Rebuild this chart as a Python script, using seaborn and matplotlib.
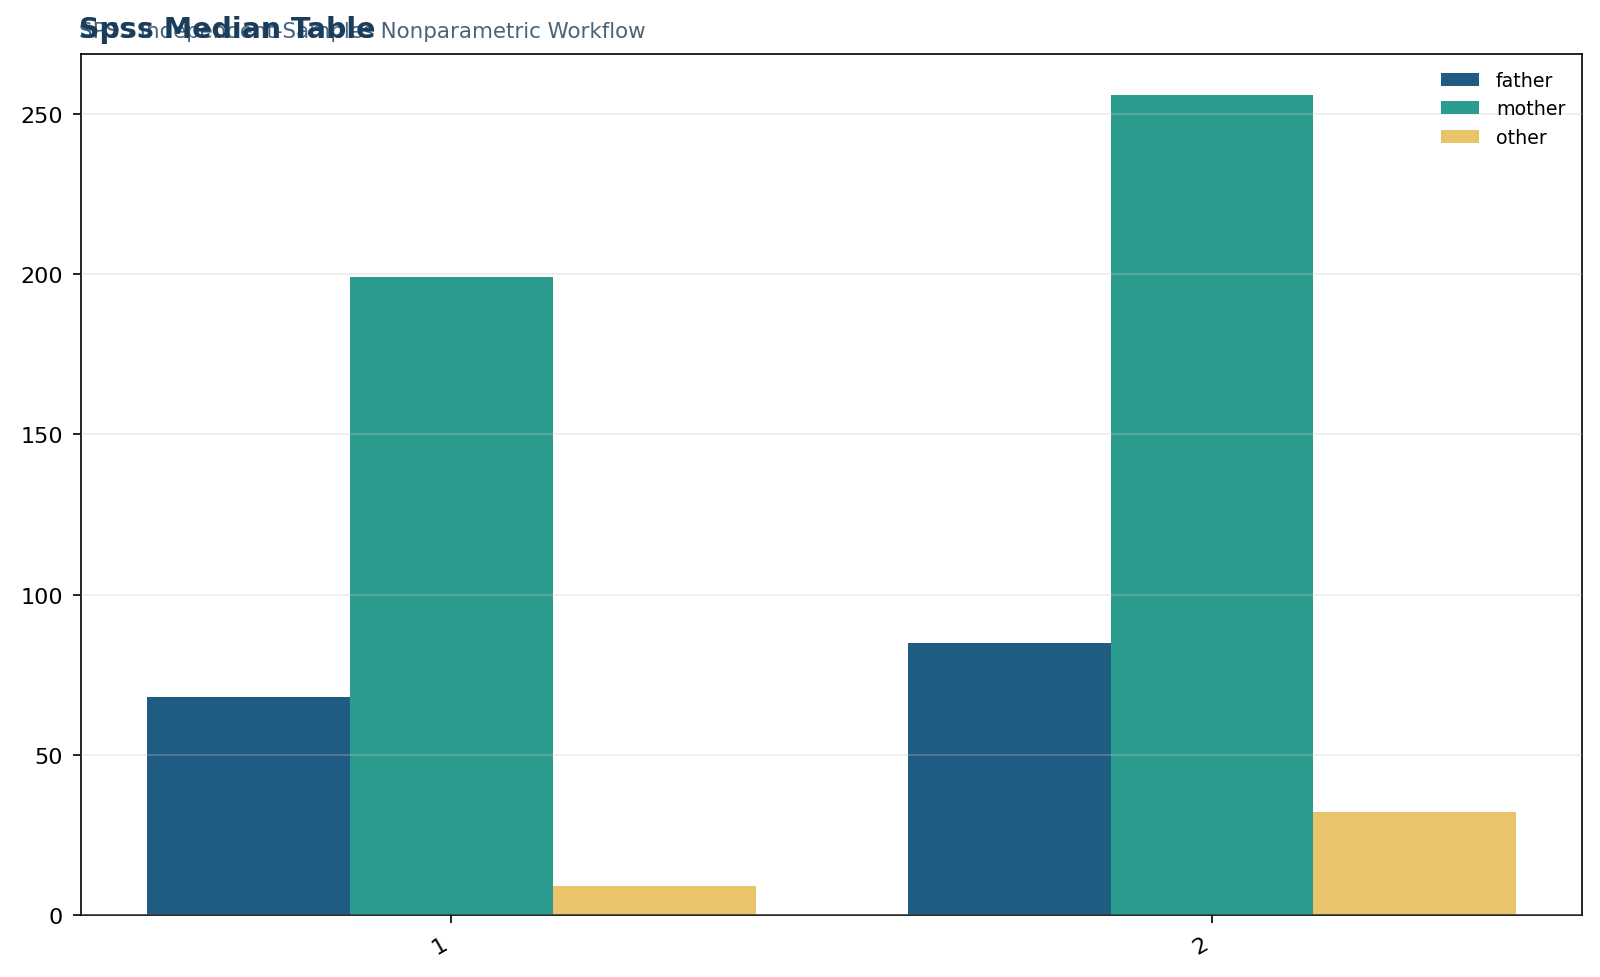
import pandas as pd
import matplotlib
matplotlib.use('Agg')
import matplotlib.pyplot as plt
import seaborn as sns

# Values
groups = ['1', '2']
relations = ['father', 'mother', 'other']
father = [68, 85]
mother = [199, 256]
other = [9, 32]

palette = {'father': '#1f5b82', 'mother': '#2a9d8f', 'other': '#e9c46a'}

df = pd.DataFrame({
    'group': groups * 3,
    'relation': ['father'] * 2 + ['mother'] * 2 + ['other'] * 2,
    'count': father + mother + other,
})

sns.set_style('white')
plt.rcParams['font.family'] = ['DejaVu Sans']

fig, ax = plt.subplots(figsize=(16, 9.78), dpi=100)
fig.subplots_adjust(left=0.0505, right=0.989, top=0.944, bottom=0.0635)

sns.barplot(data=df, x='group', y='count', hue='relation', order=groups,
            hue_order=relations, palette=palette, saturation=1,
            linewidth=0, ax=ax)
ax.set_xlim(-0.487, 1.487)

# grid sits on top of the bars, faintly
ax.set_axisbelow(False)
ax.grid(axis='y', color='#c8c8c8', alpha=0.35, linewidth=1.2)
ax.set_xlabel('')
ax.set_ylabel('')
for s in ax.spines.values():
    s.set_visible(True)
    s.set_color('black')
    s.set_linewidth(1.2)
ax.tick_params(axis='both', labelsize=16, length=6, width=1.2, color='black',
               labelcolor='black', bottom=True, left=True, pad=7)
plt.setp(ax.get_xticklabels(), rotation=30, ha='right')

leg = ax.legend(loc='upper right', frameon=False, fontsize=13.7,
                handlelength=2.0, handletextpad=0.9)
for t in leg.get_texts():
    t.set_color('black')

fig.text(0.0495, 0.961, 'SPSS Independent-Samples Nonparametric Workflow',
         fontsize=15.4, color='#4a6378', ha='left', va='baseline')
fig.text(0.0495, 0.961, 'Spss Median Table', fontsize=20.5, fontweight='bold',
         color='#1a3d5c', ha='left', va='baseline')

fig.savefig('out.png', dpi=100)
